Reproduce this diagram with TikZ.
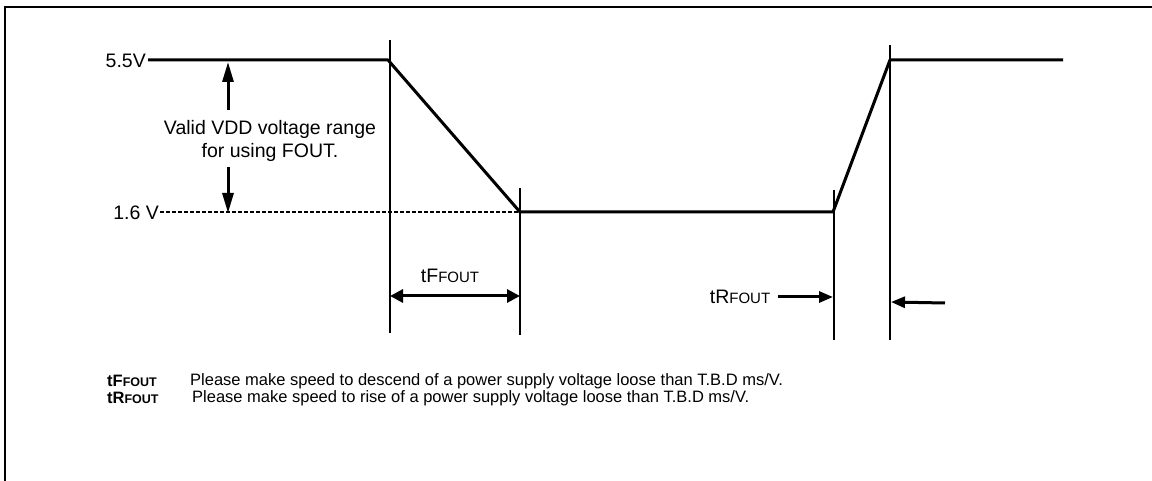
\documentclass[tikz,border=0pt]{standalone}
\usepackage{fontspec}
\setmainfont{Liberation Sans}
\usetikzlibrary{arrows.meta}
\begin{document}
\begin{tikzpicture}[x=1pt,y=-1pt,
  lbl/.style={inner sep=0pt, font=\fontsize{19.5}{23}\selectfont},
  leg/.style={inner sep=0pt, font=\fontsize{16.5}{19}\selectfont},
  wave/.style={line width=3pt, line join=round},
  guide/.style={line width=1.4pt},
  bigarrow/.style={line width=3pt, -{Triangle[length=20pt,width=11pt]}},
  smallarrow/.style={line width=3pt, -{Triangle[length=14pt,width=11pt]}},
  dbl/.style={line width=3pt, {Triangle[length=13pt,width=13pt]}-{Triangle[length=13pt,width=13pt]}}]
\useasboundingbox (0,0) rectangle (1152,481);
% frame
\draw[line width=2.2pt] (5,481) -- (5,7) -- (1152,7);
% waveform points
\coordinate (h0) at (148,60);
\coordinate (h1) at (388,60);
\coordinate (l0) at (520,212);
\coordinate (l1) at (833,212);
\coordinate (h2) at (890,60);
\coordinate (h3) at (1063,60);
\draw[wave] (h0) -- (h1) -- (l0) -- (l1) -- (h2) -- (h3);
% labels
\node[lbl, anchor=east] (v55) at (146,61) {5.5V};
\node[lbl, anchor=east] (v16) at (159,213) {1.6 V};
\coordinate (d0) at (160,212);
\draw[line width=1.8pt, dash pattern=on 4pt off 2pt] (d0) -- (l0);
% guide lines
\coordinate (g1t) at (390,40);  \coordinate (g1b) at (390,333);
\coordinate (g2t) at (520,188); \coordinate (g2b) at (520,335);
\coordinate (g3t) at (834,190); \coordinate (g3b) at (834,340);
\coordinate (g4t) at (890,45);  \coordinate (g4b) at (890,340);
\draw[guide] (g1t) -- (g1b);
\draw[guide] (g2t) -- (g2b);
\draw[guide] (g3t) -- (g3b);
\draw[guide] (g4t) -- (g4b);
% valid range text and arrows
\node[lbl, align=center] (valid) at (270,141) {Valid VDD voltage range\\for using FOUT.};
\coordinate (ua0) at (228,110); \coordinate (ua1) at (228,62);
\coordinate (da0) at (228,167); \coordinate (da1) at (228,213);
\draw[bigarrow] (ua0) -- (ua1);
\draw[bigarrow] (da0) -- (da1);
% tF
\node[lbl] (tf) at (450,276) {tF{\fontsize{15}{18}\selectfont FOUT}};
\coordinate (tfa) at (390,296); \coordinate (tfb) at (520,296);
\draw[dbl] (tfa) -- (tfb);
% tR
\node[lbl] (tr) at (740,297) {tR{\fontsize{15}{18}\selectfont FOUT}};
\coordinate (tra) at (778,297); \coordinate (trb) at (833,297);
\draw[smallarrow] (tra) -- (trb);
\coordinate (tr2a) at (945,303); \coordinate (tr2b) at (891,302);
\draw[smallarrow] (tr2a) -- (tr2b);
% legend
\node[leg, anchor=west, font=\bfseries\fontsize{16.5}{19}\selectfont] (k1) at (107,381) {tF{\fontsize{12.5}{15}\selectfont FOUT}};
\node[leg, anchor=west] (t1) at (190,381) {Please make speed to descend of a power supply voltage loose than T.B.D ms/V.};
\node[leg, anchor=west, font=\bfseries\fontsize{16.5}{19}\selectfont] (k2) at (107,398) {tR{\fontsize{12.5}{15}\selectfont FOUT}};
\node[leg, anchor=west] (t2) at (192,398) {Please make speed to rise of a power supply voltage loose than T.B.D ms/V.};
\end{tikzpicture}
\end{document}
